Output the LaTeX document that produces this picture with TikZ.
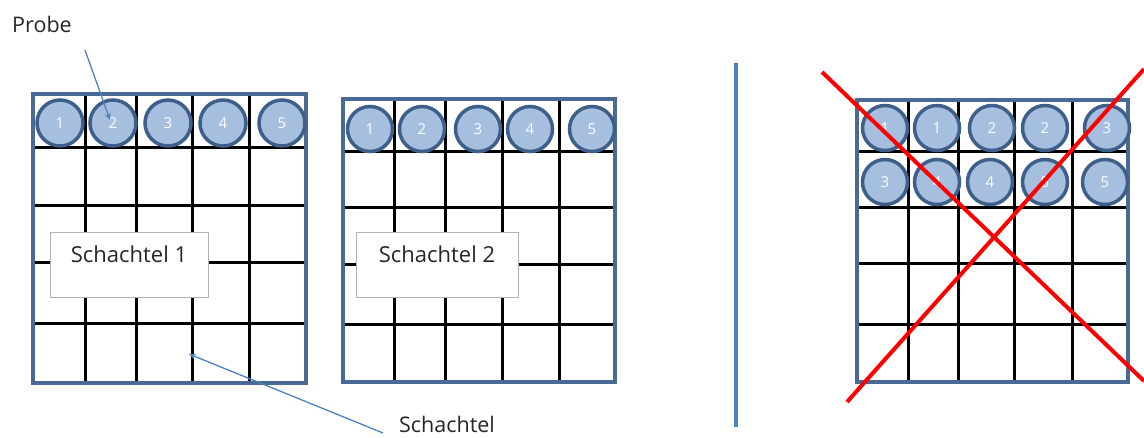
\documentclass[tikz,border=0pt]{standalone}
\usepackage{fontspec}
\setmainfont{Open Sans}
\usetikzlibrary{arrows.meta}
\definecolor{boxblue}{RGB}{74,106,150}
\definecolor{circfill}{RGB}{167,191,222}
\definecolor{circline}{RGB}{62,95,138}
\definecolor{arrowblue}{RGB}{79,129,189}
\definecolor{xred}{RGB}{255,0,0}
\tikzset{
  gridline/.style={line width=3pt, black},
  frame/.style={draw=boxblue, line width=3.2pt, rectangle, inner sep=0pt},
  probe/.style={circle, draw=circline, fill=circfill, line width=3.5pt, minimum size=45pt, inner sep=0pt, text=white, font=\fontsize{15}{18}\selectfont},
  tbox/.style={draw=black!30, fill=white, line width=0.8pt, rectangle, inner xsep=0pt, inner ysep=0pt, text height=30pt, text depth=35pt, minimum width=158pt, font=\fontsize{22}{26}\selectfont, text=black!85},
  lbl/.style={font=\fontsize{21.5}{26}\selectfont, text=black!85, inner sep=0pt, anchor=base},
  callout/.style={draw=arrowblue, line width=1.3pt, -{Stealth[length=7pt, width=6pt]}},
  xline/.style={draw=xred, line width=4pt},
  divider/.style={draw=arrowblue, line width=4.5pt}
}
\begin{document}
\begin{tikzpicture}[x=1pt, y=-1pt]
\useasboundingbox (0,0) rectangle (1144,437);

% ---- Box 1 ----
\foreach \x in {85,136,192,249} \draw[gridline] (\x,94) -- (\x,383);
\foreach \y in {147,205,262,323} \draw[gridline] (33,\y) -- (306,\y);
\node[frame, minimum width=273pt, minimum height=289pt] (box1) at (169.5,238.5) {};
\foreach \x/\n in {60/1,113/2,168/3,223/4,282/5}
  \node[probe, minimum size=46pt] (a\n) at (\x,123) {\n};

% ---- Box 2 ----
\foreach \x in {394,445,502,559} \draw[gridline] (\x,99) -- (\x,382);
\foreach \y in {151,207,264,324} \draw[gridline] (343,\y) -- (615,\y);
\node[frame, minimum width=272pt, minimum height=283pt] (box2) at (479,240.5) {};
\foreach \x/\n in {370/1,422/2,478/3,530/4,592/5}
  \node[probe] (b\n) at (\x,129) {\n};

% ---- Box 3 ----
\foreach \x in {908,958,1014,1072} \draw[gridline] (\x,100) -- (\x,382);
\foreach \y in {151,207,263,324} \draw[gridline] (857,\y) -- (1128,\y);
\node[frame, minimum width=271pt, minimum height=282pt] (box3) at (992.5,241) {};
\foreach \x/\n/\k in {885/1/1,937/1/2,992/2/3,1045/2/4,1107/3/5}
  \node[probe] (c\k) at (\x,128) {\n};
\foreach \x/\n/\k in {885/3/6,937/4/7,990/4/8,1045/5/9,1105/5/10}
  \node[probe] (c\k) at (\x,182) {\n};

% ---- text boxes ----
\node[tbox] (s1) at (129,264.5) {Schachtel 1};
\node[tbox, minimum width=162pt] (s2) at (437,264.5) {Schachtel 2};

% ---- labels and callouts ----
\node[lbl] (probelbl) at (42,32) {Probe};
\node[lbl] (schlbl) at (447,432) {Schachtel};
\coordinate (pstart) at (85,50);
\coordinate (sstart) at (383,433);
\coordinate (spoint) at (189,354);
\draw[callout] (pstart) -- ([shift={(-3,-3)}]a2.center);
\draw[callout] (sstart) -- (spoint);

% ---- divider ----
\coordinate (dtop) at (736,63);
\coordinate (dbot) at (736,427);
\draw[divider] (dtop) -- (dbot);

% ---- red cross ----
\coordinate (x1a) at (822,72);
\coordinate (x1b) at (1144,381);
\coordinate (x2a) at (847,402);
\coordinate (x2b) at (1144,69);
\draw[xline] (x1a) -- (x1b);
\draw[xline] (x2a) -- (x2b);
\end{tikzpicture}
\end{document}
